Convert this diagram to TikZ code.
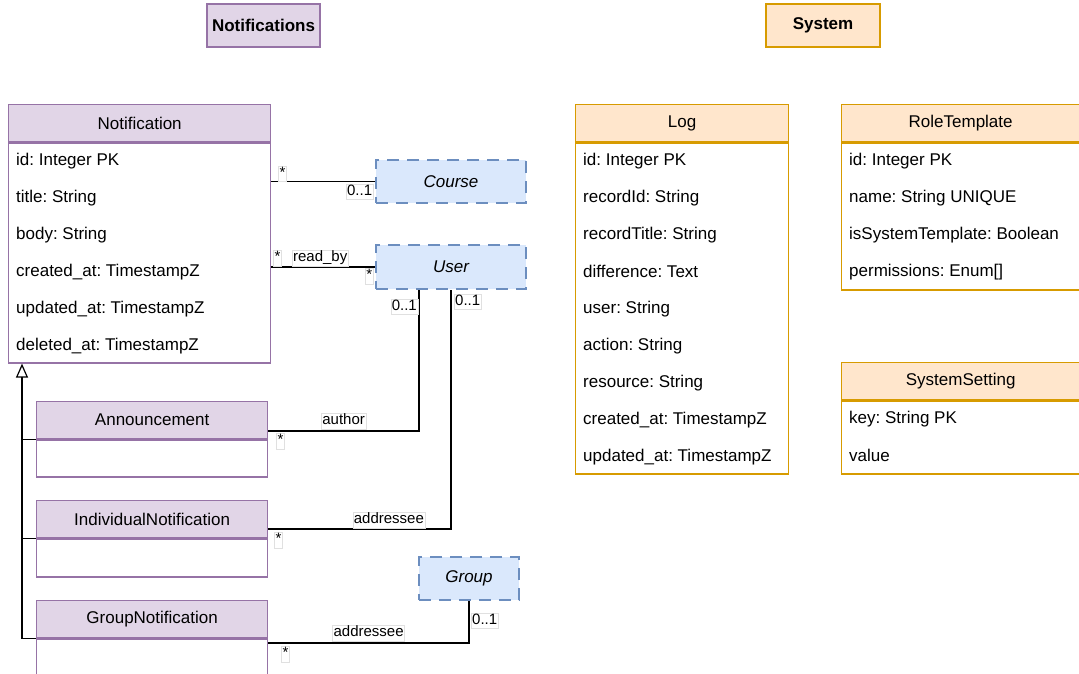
\documentclass[tikz,border=0pt]{standalone}
\usepackage{fontspec}
\setmainfont{Liberation Sans}
\usetikzlibrary{calc,positioning,arrows.meta}
\definecolor{notiffill}{HTML}{E1D5E7}
\definecolor{notifline}{HTML}{9673A6}
\definecolor{sysfill}{HTML}{FFE6CC}
\definecolor{sysline}{HTML}{D79B00}
\definecolor{reffill}{HTML}{DAE8FC}
\definecolor{refline}{HTML}{6C8EBF}
\frenchspacing
\tikzset{
  txt/.style={font=\fontsize{17}{20}\selectfont},
  head/.style={txt, draw, line width=1.3pt, anchor=north west,
               minimum height=37pt, inner sep=0pt},
  notifhead/.style={head, draw=notifline, fill=notiffill},   % class header, left group
  syshead/.style={head, draw=sysline, fill=sysfill},         % class header, right group
  notifbody/.style={draw=notifline, fill=white, line width=1.3pt, anchor=north, inner sep=0pt},
  sysbody/.style={draw=sysline, fill=white, line width=1.3pt, anchor=north, inner sep=0pt},
  attr/.style={txt, anchor=west, inner sep=0pt},
  refclass/.style={draw=refline, fill=reffill, line width=1.3pt,
                   dash pattern=on 12pt off 8pt, inner sep=0pt,
                   font=\fontsize{17}{20}\selectfont\itshape},
  conn/.style={line width=1.4pt},
  lbl/.style={font=\fontsize{15}{18}\selectfont, fill=white, draw=black!12,
              line width=0.4pt, inner xsep=1pt, inner ysep=0.5pt,
              text height=11pt, text depth=3.5pt}
}
\begin{document}
\begin{tikzpicture}[x=1pt,y=-1pt]
  \useasboundingbox (0,0) rectangle (1079,673);

  % group titles
  \node[notifhead, anchor=center, minimum width=113, minimum height=43,
        font=\fontsize{17}{20}\selectfont\bfseries] (notiftitle) at (263.5,25.5) {Notifications};
  \node[syshead, anchor=center, minimum width=114, minimum height=43,
        font=\fontsize{17}{20}\selectfont\bfseries] (systitle) at (823,25.5) {System};

  % Notification
  \node[notifhead, minimum width=262] (notif) at (8,104) {Notification};
  \node[notifbody, minimum width=262, minimum height=220] (notifattrs) at (notif.south) {};
  \foreach \attr [count=\i from 0] in {id: Integer PK, title: String, body: String,
      created\_at: TimestampZ, updated\_at: TimestampZ, deleted\_at: TimestampZ}
    \node[attr] at ($(notifattrs.north west)+(8,18.5+37*\i)$) {\attr};

  % subclasses
  \node[notifhead, minimum width=231] (ann) at (36,401) {Announcement};
  \node[notifbody, minimum width=231, minimum height=37] (annattrs) at (ann.south) {};
  \node[notifhead, minimum width=231] (indiv) at (36,500) {IndividualNotification};
  \node[notifbody, minimum width=231, minimum height=38] (indivattrs) at (indiv.south) {};
  \node[notifhead, minimum width=231] (grpnote) at (36,600) {GroupNotification};
  \node[notifbody, minimum width=231, minimum height=50] (grpnoteattrs) at (grpnote.south) {};

  % referenced classes
  \node[refclass, minimum width=150, minimum height=43] (course) at (451,181.5) {Course};
  \node[refclass, minimum width=150, minimum height=44] (user) at (451,267) {User};
  \node[refclass, minimum width=100, minimum height=43] (group) at (469,578.5) {Group};

  % Log
  \node[syshead, minimum width=213] (log) at (575,104) {Log};
  \node[sysbody, minimum width=213, minimum height=331] (logattrs) at (log.south) {};
  \foreach \attr [count=\i from 0] in {id: Integer PK, recordId: String, recordTitle: String,
      difference: Text, user: String, action: String, resource: String,
      created\_at: TimestampZ, updated\_at: TimestampZ}
    \node[attr] at ($(logattrs.north west)+(8,18.5+37*\i)$) {\attr};

  % RoleTemplate
  \node[syshead, minimum width=260] (role) at (841,104) {\hspace*{-22pt}RoleTemplate};
  \node[sysbody, minimum width=260, minimum height=147] (roleattrs) at (role.south) {};
  \foreach \attr [count=\i from 0] in {id: Integer PK, name: String UNIQUE,
      isSystemTemplate: Boolean, {permissions: Enum[]}}
    \node[attr] at ($(roleattrs.north west)+(8,18.5+37*\i)$) {\attr};

  % SystemSetting
  \node[syshead, minimum width=260] (setting) at (841,362) {\hspace*{-22pt}SystemSetting};
  \node[sysbody, minimum width=260, minimum height=73] (settingattrs) at (setting.south) {};
  \foreach \attr [count=\i from 0] in {key: String PK, value}
    \node[attr] at ($(settingattrs.north west)+(8,18.5+37*\i)$) {\attr};

  % generalization
  \coordinate (spine) at (22,0);
  \draw[conn, -{Triangle[open, width=12pt, length=14pt, line width=1.2pt]}]
    (grpnote.south west) -| (spine |- notifattrs.south);
  \draw[conn] (ann.south west) -- (spine |- ann.south west);
  \draw[conn] (indiv.south west) -- (spine |- indiv.south west);

  % associations
  \draw[conn] (course.west -| notifattrs.east)
    -- node[lbl, pos=0, anchor=south west, xshift=7pt] {*}
       node[lbl, pos=1, anchor=north east, xshift=-2pt, yshift=-2pt] {0..1} (course.west);
  \draw[conn] (user.west -| notifattrs.east)
    -- node[lbl, pos=0, anchor=south west, xshift=2pt, yshift=1pt] {*}
       node[lbl, pos=0.47, anchor=south, yshift=1pt] {read\_by}
       node[lbl, pos=1, anchor=north east, xshift=-2pt, yshift=-1pt] {*} (user.west);
  \draw[conn] ($(ann.east)+(0,11)$)
    -| node[lbl, pos=0, anchor=north west, xshift=8pt, yshift=-2pt] {*}
       node[lbl, pos=0.25, anchor=south, yshift=2pt] {author}
       node[lbl, pos=1, anchor=north east, xshift=-1pt, yshift=-9pt] {0..1}
       ($(user.south)+(-32,0)$);
  \draw[conn] ($(indiv.east)+(0,10)$)
    -| node[lbl, pos=0, anchor=north west, xshift=6pt, yshift=-3pt] {*}
       node[lbl, pos=0.33, anchor=south, yshift=1pt] {addressee}
       node[lbl, pos=1, anchor=north west, xshift=3pt, yshift=-4pt] {0..1} (user.south);
  \draw[conn] ($(grpnote.east)+(0,24)$)
    -| node[lbl, pos=0, anchor=north west, xshift=13pt, yshift=-3pt] {*}
       node[lbl, pos=0.25, anchor=south, yshift=2pt] {addressee}
       node[lbl, pos=1, anchor=north west, xshift=2pt, yshift=-12pt] {0..1} (group.south);
\end{tikzpicture}
\end{document}
